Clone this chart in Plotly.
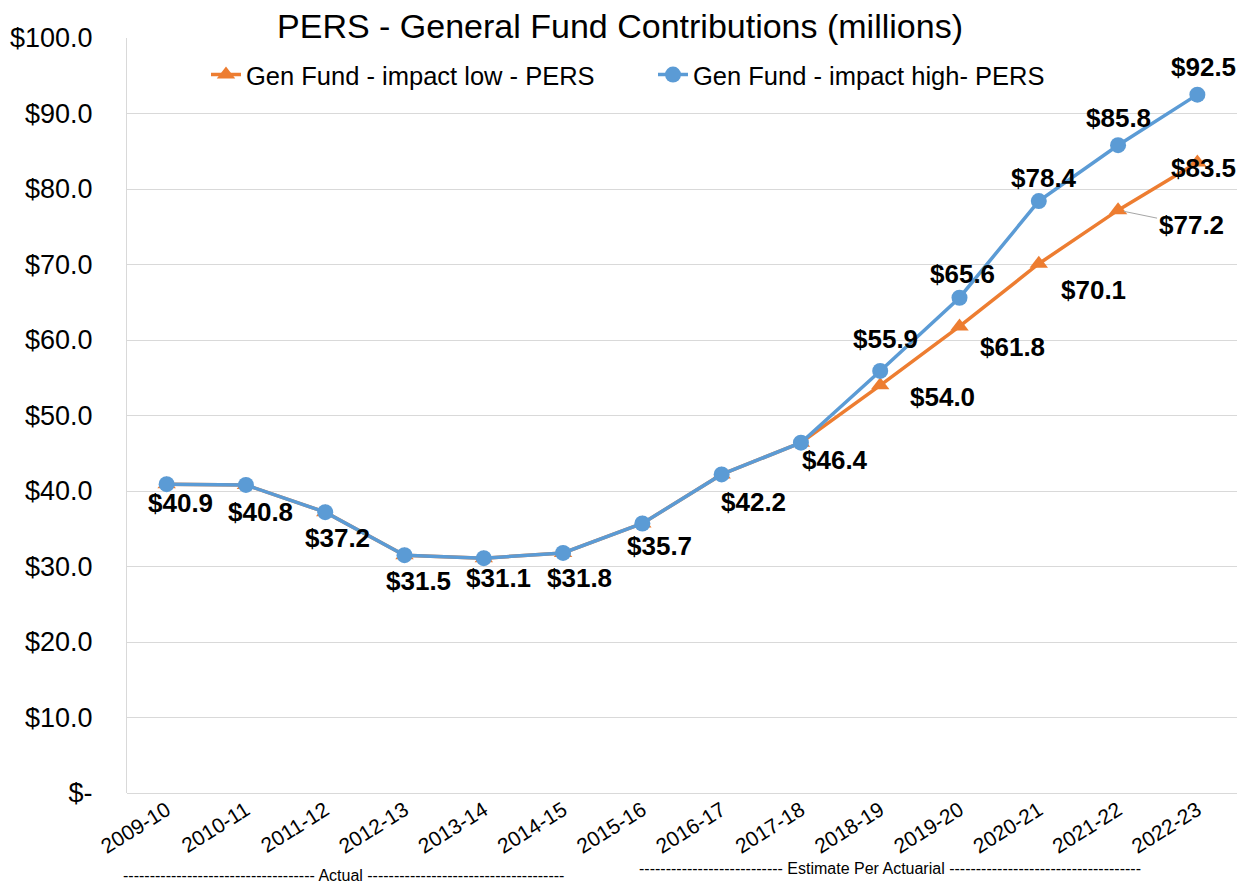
import plotly.graph_objects as go

# ---- data ----
years = ["2009-10", "2010-11", "2011-12", "2012-13", "2013-14", "2014-15", "2015-16",
         "2016-17", "2017-18", "2018-19", "2019-20", "2020-21", "2021-22", "2022-23"]
impact_low = [40.9, 40.8, 37.2, 31.5, 31.1, 31.8, 35.7, 42.2, 46.4, 54.0, 61.8, 70.1, 77.2, 83.5]
impact_high = [40.9, 40.8, 37.2, 31.5, 31.1, 31.8, 35.7, 42.2, 46.4, 55.9, 65.6, 78.4, 85.8, 92.5]
y_tick_vals = [0, 10, 20, 30, 40, 50, 60, 70, 80, 90, 100]
y_tick_text = ["$-", "$10.0", "$20.0", "$30.0", "$40.0", "$50.0", "$60.0", "$70.0", "$80.0", "$90.0", "$100.0"]
title_text = "PERS - General Fund Contributions (millions)"
low_name = "Gen Fund - impact low - PERS"
high_name = "Gen Fund - impact high- PERS"
actual_text = "-" * 36 + " Actual " + "-" * 37
estimate_text = "-" * 27 + " Estimate Per Actuarial " + "-" * 36
high_label_start = 9  # high series labelled from 2018-19 onwards

# ---- label placement (pixel offsets: dx right, dy down) ----
low_off = [(14, 19), (15, 27), (12, 26), (14, 26), (15, 20), (16, 25), (17, 23),
           (32, 28), (34, 17), (62, 12), (53, 21), (55, 26), (73, 15), (6, 5)]
high_off = {9: (5, -32), 10: (3, -24), 11: (5, -23), 12: (0, -27), 13: (6, -28)}

ORANGE = "#ED7D31"
BLUE = "#5B9BD5"
FONT = "Liberation Sans, Arial, sans-serif"
LBL = 26

fig = go.Figure()
fig.add_trace(go.Scatter(
    x=years, y=impact_low, name=low_name, mode="lines+markers",
    line=dict(color=ORANGE, width=3.5),
    marker=dict(symbol="triangle-up", size=16, color=ORANGE),
))
fig.add_trace(go.Scatter(
    x=years, y=impact_high, name=high_name, mode="lines+markers",
    line=dict(color=BLUE, width=3.5),
    marker=dict(symbol="circle", size=16, color=BLUE),
))

annotations = []
for i, (yr, v) in enumerate(zip(years, impact_low)):
    dx, dy = low_off[i]
    if i == 12:
        annotations.append(dict(
            x=yr, y=v, xref="x", yref="y", text=f"${v:.1f}", showarrow=True,
            ax=dx, ay=dy, arrowhead=0, arrowwidth=1, arrowcolor="#a6a6a6",
            standoff=6, startstandoff=0,
            font=dict(family=FONT, size=LBL, color="black", weight="bold")))
    else:
        annotations.append(dict(
            x=yr, y=v, xref="x", yref="y", text=f"${v:.1f}", showarrow=False,
            xshift=dx, yshift=-dy,
            font=dict(family=FONT, size=LBL, color="black", weight="bold")))
for i in range(high_label_start, len(years)):
    dx, dy = high_off[i]
    v = impact_high[i]
    annotations.append(dict(
        x=years[i], y=v, xref="x", yref="y", text=f"${v:.1f}", showarrow=False,
        xshift=dx, yshift=-dy,
        font=dict(family=FONT, size=LBL, color="black", weight="bold")))

# page body has an 8px margin, so figure coords = screen coords - 8
W, H = 1244, 878
ML, MR, MT, MB = 119, 15, 30, 93
PW, PH = W - ML - MR, H - MT - MB

for txt, px, py in [(actual_text, 335, 867), (estimate_text, 882, 861)]:
    annotations.append(dict(
        x=(px - ML) / PW, y=(H - MB - py) / PH, xref="paper", yref="paper",
        xanchor="center", yanchor="middle", showarrow=False, text=txt,
        font=dict(family=FONT, size=16, color="black")))

fig.update_layout(
    width=W, height=H,
    margin=dict(l=ML, r=MR, t=MT, b=MB, autoexpand=False),
    paper_bgcolor="white", plot_bgcolor="white",
    font=dict(family=FONT, color="black"),
    title=dict(text=title_text, x=612 / W, xanchor="center", y=1 - 18 / H, yanchor="middle",
               font=dict(family=FONT, size=34, color="black")),
    showlegend=True,
    legend=dict(orientation="h", x=(198 - ML) / PW, xanchor="left",
                y=1 - 37 / PH, yanchor="middle",
                font=dict(family=FONT, size=25.5, color="black"),
                bgcolor="rgba(0,0,0,0)", entrywidth=402, entrywidthmode="pixels",
                traceorder="normal"),
    annotations=annotations,
    xaxis=dict(type="category", tickangle=-32, showgrid=False, showline=False,
               zeroline=False, ticks="", automargin=False,
               tickfont=dict(family=FONT, size=21, color="black"),
               range=[-0.5, len(years) - 0.5]),
    yaxis=dict(range=[0, 100], tickvals=y_tick_vals, ticktext=y_tick_text,
               showgrid=True, gridcolor="#d9d9d9", gridwidth=1,
               showline=True, linecolor="#d9d9d9", linewidth=1,
               zeroline=True, zerolinecolor="#d9d9d9", zerolinewidth=1,
               ticks="", ticklabelstandoff=28, automargin=False,
               tickfont=dict(family=FONT, size=27, color="black")),
)

fig.write_html("out.html")
